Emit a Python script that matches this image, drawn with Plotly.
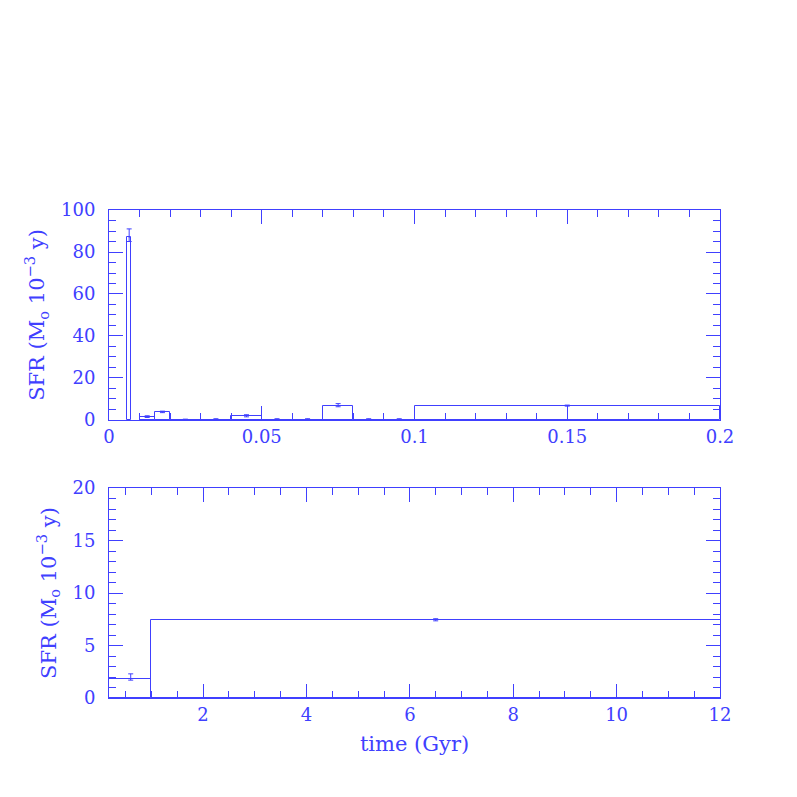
import plotly.graph_objects as go

# ---- top panel data (time in Gyr, SFR in 1e-3 Msun/yr) ----
top_left = [0.006, 0.010, 0.015, 0.020, 0.030, 0.040, 0.050, 0.060, 0.070, 0.080, 0.090, 0.100]
top_right = [0.0072, 0.015, 0.020, 0.030, 0.040, 0.050, 0.060, 0.070, 0.080, 0.090, 0.100, 0.200]
top_sfr = [87, 1.5, 3.8, 0.1, 0.1, 1.8, 0.1, 0.1, 6.8, 0.1, 0.1, 6.8]
top_errx = [0.0066, 0.0125, 0.0175, 0.025, 0.035, 0.045, 0.055, 0.065, 0.075, 0.085, 0.095, 0.15]
top_err_up = [4, 0.5, 0.4, 0.3, 0.5, 0.7, 0.5, 0.5, 1.0, 0.5, 0.5, 0.3]
top_err_dn = [2, 0.3, 0.3, 0.1, 0.1, 0.3, 0.1, 0.1, 0.5, 0.1, 0.1, 0.2]

# ---- bottom panel data ----
bot_left = [0.1, 1.0]
bot_right = [1.0, 13.0]
bot_sfr = [1.8, 7.45]
bot_errx = [0.6, 6.5]
bot_err_up = [0.5, 0.1]
bot_err_dn = [0.1, 0.1]

C = "rgb(64,64,255)"
FONT = "DejaVu Serif"

def centers(l, r):
    return [(a + b) / 2 for a, b in zip(l, r)]

def widths(l, r):
    return [b - a for a, b in zip(l, r)]

fig = go.Figure()
fig.add_trace(go.Bar(x=centers(top_left, top_right), y=top_sfr, width=widths(top_left, top_right),
                     marker=dict(color="rgba(0,0,0,0)", line=dict(color=C, width=1)),
                     xaxis="x", yaxis="y", showlegend=False))
fig.add_trace(go.Scatter(x=top_errx, y=top_sfr, mode="markers", marker=dict(size=1, color=C),
                         error_y=dict(type="data", symmetric=False, array=top_err_up, arrayminus=top_err_dn,
                                      color=C, thickness=1, width=2.5),
                         xaxis="x", yaxis="y", showlegend=False))
fig.add_trace(go.Bar(x=centers(bot_left, bot_right), y=bot_sfr, width=widths(bot_left, bot_right),
                     marker=dict(color="rgba(0,0,0,0)", line=dict(color=C, width=1)),
                     xaxis="x2", yaxis="y2", showlegend=False))
fig.add_trace(go.Scatter(x=bot_errx, y=bot_sfr, mode="markers", marker=dict(size=1, color=C),
                         error_y=dict(type="data", symmetric=False, array=bot_err_up, arrayminus=bot_err_dn,
                                      color=C, thickness=1, width=2.5),
                         xaxis="x2", yaxis="y2", showlegend=False))

def ax(**kw):
    d = dict(showline=True, linecolor=C, linewidth=1, mirror="allticks", ticks="inside",
             ticklen=14, tickcolor=C, tickwidth=1, showgrid=False, zeroline=False,
             tickfont=dict(family=FONT, size=18, color=C), ticklabelstandoff=9)
    d.update(kw)
    return d

ytitle = "SFR (M<sub>o</sub> 10<sup>\u22123</sup> y)"

fig.update_layout(
    width=797, height=797,
    margin=dict(l=101, r=85, t=202, b=107),
    paper_bgcolor="white", plot_bgcolor="white",
    bargap=0,
    xaxis=ax(domain=[0, 1], anchor="y", range=[0, 0.2], dtick=0.05, tick0=0, ticklabelstandoff=0,
             minor=dict(dtick=0.01, ticklen=7, ticks="inside", tickcolor=C)),
    yaxis=ax(domain=[0.5697, 1], anchor="x", range=[0, 100], dtick=20, tick0=0,
             minor=dict(dtick=5, ticklen=7, ticks="inside", tickcolor=C),
             title=dict(text=ytitle, font=dict(family=FONT, size=21, color=C), standoff=10)),
    xaxis2=ax(domain=[0, 1], anchor="y2", range=[0.18, 12], dtick=2, tick0=0, ticklabelstandoff=0,
              minor=dict(dtick=0.5, ticklen=7, ticks="inside", tickcolor=C),
              title=dict(text="time (Gyr)", font=dict(family=FONT, size=21, color=C), standoff=12)),
    yaxis2=ax(domain=[0, 0.4303], anchor="x2", range=[0, 20], dtick=5, tick0=0,
              minor=dict(dtick=1, ticklen=7, ticks="inside", tickcolor=C),
              title=dict(text=ytitle, font=dict(family=FONT, size=21, color=C), standoff=10)),
)

fig.write_html("out.html")
